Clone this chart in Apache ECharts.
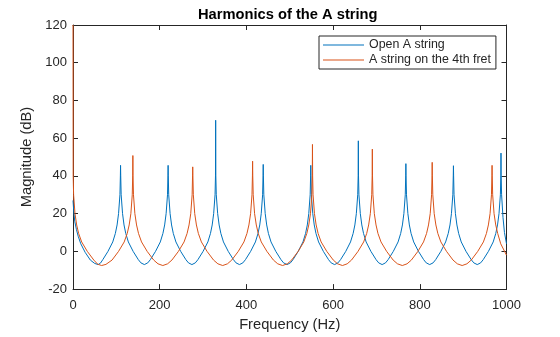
<!DOCTYPE html>
<html>
<head>
<meta charset="utf-8">
<script src="https://cdn.jsdelivr.net/npm/echarts@6/dist/echarts.min.js"></script>
<style>html,body{margin:0;padding:0;background:#fff;overflow:hidden}#c{width:560px;height:337px}</style>
</head>
<body>
<div id="c"></div>
<script>
// Title / labels
const chartTitle = 'Harmonics of the A string';
const seriesNames = ['Open A string', 'A string on the 4th fret'];
const xTicks = [0, 200, 400, 600, 800, 1000];
const yTicks = [-20, 0, 20, 40, 60, 80, 100, 120];

// Open A string (blue) : [frequency Hz, magnitude dB]
const openA = [
[0,27],[1.5,22],[4,16],[8,11.5],[12,8],[18,4],[28,-0.5],[40,-4.6],[50,-6.4],[58,-7],[63.5,-6.2],
[68.7,-4.4],[80.7,0],[91.7,5],[97.7,9.5],[101.7,14],[105.1,20],[108.3,30],[109.3,40],[109.7,45.6],[110.1,40],[111.1,30],[114.3,20],[117.7,14],[121.7,9.5],[127.7,5],[138.7,0],[150.7,-4.4],[156.7,-6.1],[164.6,-7],[172.4,-6.1],
[178.4,-4.4],[190.4,0],[201.4,5],[207.4,9.5],[211.4,14],[214.8,20],[218,30],[219,40],[219.4,45.6],[219.8,40],[220.8,30],[224,20],[227.4,14],[231.4,9.5],[237.4,5],[248.4,0],[260.4,-4.4],[266.4,-6.1],[274.3,-7],[282.1,-6.1],
[288.1,-4.4],[300.1,0],[311.1,5],[317.1,9.5],[321.1,14],[324.5,20],[327.7,30],[328.7,40],[329.1,69.5],[329.5,40],[330.5,30],[333.7,20],[337.1,14],[341.1,9.5],[347.1,5],[358.1,0],[370.1,-4.4],[376.1,-6.1],[384,-7],[391.8,-6.1],
[397.8,-4.4],[409.8,0],[420.8,5],[426.8,9.5],[430.8,14],[434.2,20],[437.4,30],[438.4,40],[438.8,46.1],[439.2,40],[440.2,30],[443.4,20],[446.8,14],[450.8,9.5],[456.8,5],[467.8,0],[479.8,-4.4],[485.8,-6.1],[493.7,-7],[501.5,-6.1],
[507.5,-4.4],[519.5,0],[530.5,5],[536.5,9.5],[540.5,14],[543.9,20],[547.1,30],[548.1,40],[548.5,45.6],[548.9,40],[549.9,30],[553.1,20],[556.5,14],[560.5,9.5],[566.5,5],[577.5,0],[589.5,-4.4],[595.5,-6.1],[603.4,-7],[611.2,-6.1],
[617.2,-4.4],[629.2,0],[640.2,5],[646.2,9.5],[650.2,14],[653.6,20],[656.8,30],[657.8,40],[658.2,58.6],[658.6,40],[659.6,30],[662.8,20],[666.2,14],[670.2,9.5],[676.2,5],[687.2,0],[699.2,-4.4],[705.2,-6.1],[713.1,-7],[720.9,-6.1],
[726.9,-4.4],[738.9,0],[749.9,5],[755.9,9.5],[759.9,14],[763.3,20],[766.5,30],[767.5,40],[767.9,46.5],[768.3,40],[769.3,30],[772.5,20],[775.9,14],[779.9,9.5],[785.9,5],[796.9,0],[808.9,-4.4],[814.9,-6.1],[822.8,-7],[830.6,-6.1],
[836.6,-4.4],[848.6,0],[859.6,5],[865.6,9.5],[869.6,14],[873,20],[876.2,30],[877.2,40],[877.6,45.4],[878,40],[879,30],[882.2,20],[885.6,14],[889.6,9.5],[895.6,5],[906.6,0],[918.6,-4.4],[924.6,-6.1],[932.5,-7],[940.3,-6.1],
[946.3,-4.4],[958.3,0],[969.3,5],[975.3,9.5],[979.3,14],[982.7,20],[985.9,30],[986.9,40],[987.3,52.1],[987.7,40],[988.7,30],[991.9,18],[995.3,10],[1000,4]
];

// A string on the 4th fret (orange) : [frequency Hz, magnitude dB]
const fret4 = [
[0,120],[0.4,40],[1.4,30],[4.6,20],[8.5,14],[13,9.5],[20,5],[33,0],[48,-4.6],[57,-6.8],[66,-7.5],[76,-6.9],
[90.1,-4.6],[105.1,0],[118.1,5],[125.1,9.5],[129.6,14],[133.5,20],[136.7,30],[137.7,40],[138.1,50.8],[138.5,40],[139.5,30],[142.7,20],[146.6,14],[151.1,9.5],[158.1,5],[171.1,0],[186.1,-4.6],[196.1,-6.6],[207.2,-7.5],[218.2,-6.6],
[228.2,-4.6],[243.2,0],[256.2,5],[263.2,9.5],[267.7,14],[271.6,20],[274.8,30],[275.8,40],[276.2,44.8],[276.6,40],[277.6,30],[280.8,20],[284.7,14],[289.2,9.5],[296.2,5],[309.2,0],[324.2,-4.6],[334.2,-6.6],[345.3,-7.5],[356.3,-6.6],
[366.3,-4.6],[381.3,0],[394.3,5],[401.3,9.5],[405.8,14],[409.7,20],[412.9,30],[413.9,40],[414.3,47.8],[414.7,40],[415.7,30],[418.9,20],[422.8,14],[427.3,9.5],[434.3,5],[447.3,0],[462.3,-4.6],[472.3,-6.6],[483.4,-7.5],[494.4,-6.6],
[504.4,-4.6],[519.4,0],[532.4,5],[539.4,9.5],[543.9,14],[547.8,20],[551,30],[552,40],[552.4,56.7],[552.8,40],[553.8,30],[557,20],[560.9,14],[565.4,9.5],[572.4,5],[585.4,0],[600.4,-4.6],[610.4,-6.6],[621.5,-7.5],[632.5,-6.6],
[642.5,-4.6],[657.5,0],[670.5,5],[677.5,9.5],[682,14],[685.9,20],[689.1,30],[690.1,40],[690.5,54.2],[690.9,40],[691.9,30],[695.1,20],[699,14],[703.5,9.5],[710.5,5],[723.5,0],[738.5,-4.6],[748.5,-6.6],[759.6,-7.5],[770.6,-6.6],
[780.6,-4.6],[795.6,0],[808.6,5],[815.6,9.5],[820.1,14],[824,20],[827.2,30],[828.2,40],[828.6,47.2],[829,40],[830,30],[833.2,20],[837.1,14],[841.6,9.5],[848.6,5],[861.6,0],[876.6,-4.6],[886.6,-6.6],[897.7,-7.5],[908.7,-6.6],
[918.7,-4.6],[933.7,0],[946.7,5],[953.7,9.5],[958.2,14],[962.1,20],[965.3,30],[966.3,40],[966.7,45.6],[967.1,40],[968.1,30],[971.3,20],[975.2,14],[979.7,9.5],[986.7,4],[1000,-2]
];

const FONT = '"Liberation Sans", Arial, Helvetica, sans-serif';
const INK = '#262626';
const chart = echarts.init(document.getElementById('c'), null, {renderer: 'canvas', width: 560, height: 337});

const axisCommon = {
  type: 'value',
  axisLine: {show: true, onZero: false, lineStyle: {color: INK, width: 1}},
  axisTick: {show: true, inside: true, length: 5, lineStyle: {color: INK, width: 1}},
  splitLine: {show: false}
};
const plainNum = v => String(v);

chart.setOption({
  animation: false,
  backgroundColor: '#fff',
  title: {
    text: chartTitle, left: 198, top: 7, padding: 0,
    textStyle: {fontFamily: FONT, fontSize: 14.7, fontWeight: 'bold', color: '#000'}
  },
  legend: {
    orient: 'vertical', left: 319, top: 36,
    data: seriesNames,
    icon: 'rect', itemWidth: 41, itemHeight: 1, itemGap: 1,
    padding: [2, 5, 2, 4],
    borderColor: INK, borderWidth: 1, borderRadius: 0, backgroundColor: '#fff',
    textStyle: {fontFamily: FONT, fontSize: 12.4, color: INK, lineHeight: 14}
  },
  grid: {left: 73, top: 25, width: 433.5, height: 271.5, containLabel: false},
  xAxis: [
    Object.assign({}, axisCommon, {
      position: 'bottom', min: xTicks[0], max: xTicks[xTicks.length - 1], interval: xTicks[1] - xTicks[0],
      name: 'Frequency (Hz)', nameLocation: 'middle', nameGap: 26,
      nameTextStyle: {fontFamily: FONT, fontSize: 14.7, color: INK},
      axisLabel: {fontFamily: FONT, fontSize: 13, color: INK, margin: 10, formatter: plainNum}
    }),
    Object.assign({}, axisCommon, {
      position: 'top', min: xTicks[0], max: xTicks[xTicks.length - 1], interval: xTicks[1] - xTicks[0],
      axisLabel: {show: false}
    })
  ],
  yAxis: [
    Object.assign({}, axisCommon, {
      position: 'left', min: yTicks[0], max: yTicks[yTicks.length - 1], interval: yTicks[1] - yTicks[0],
      name: 'Magnitude (dB)', nameLocation: 'middle', nameGap: 32, nameRotate: 90,
      nameTextStyle: {fontFamily: FONT, fontSize: 14.7, color: INK},
      axisLabel: {fontFamily: FONT, fontSize: 13, color: INK, margin: 6, formatter: plainNum}
    }),
    Object.assign({}, axisCommon, {
      position: 'right', min: yTicks[0], max: yTicks[yTicks.length - 1], interval: yTicks[1] - yTicks[0],
      axisLabel: {show: false}
    })
  ],
  series: [
    {
      name: seriesNames[0], type: 'line', data: openA, showSymbol: false, symbol: 'none',
      lineStyle: {color: '#0072BD', width: 1}, itemStyle: {color: '#0072BD'}, clip: true
    },
    {
      name: seriesNames[1], type: 'line', data: fret4, showSymbol: false, symbol: 'none',
      lineStyle: {color: '#D95319', width: 1}, itemStyle: {color: '#D95319'}, clip: true
    }
  ]
});
</script>
</body>
</html>
